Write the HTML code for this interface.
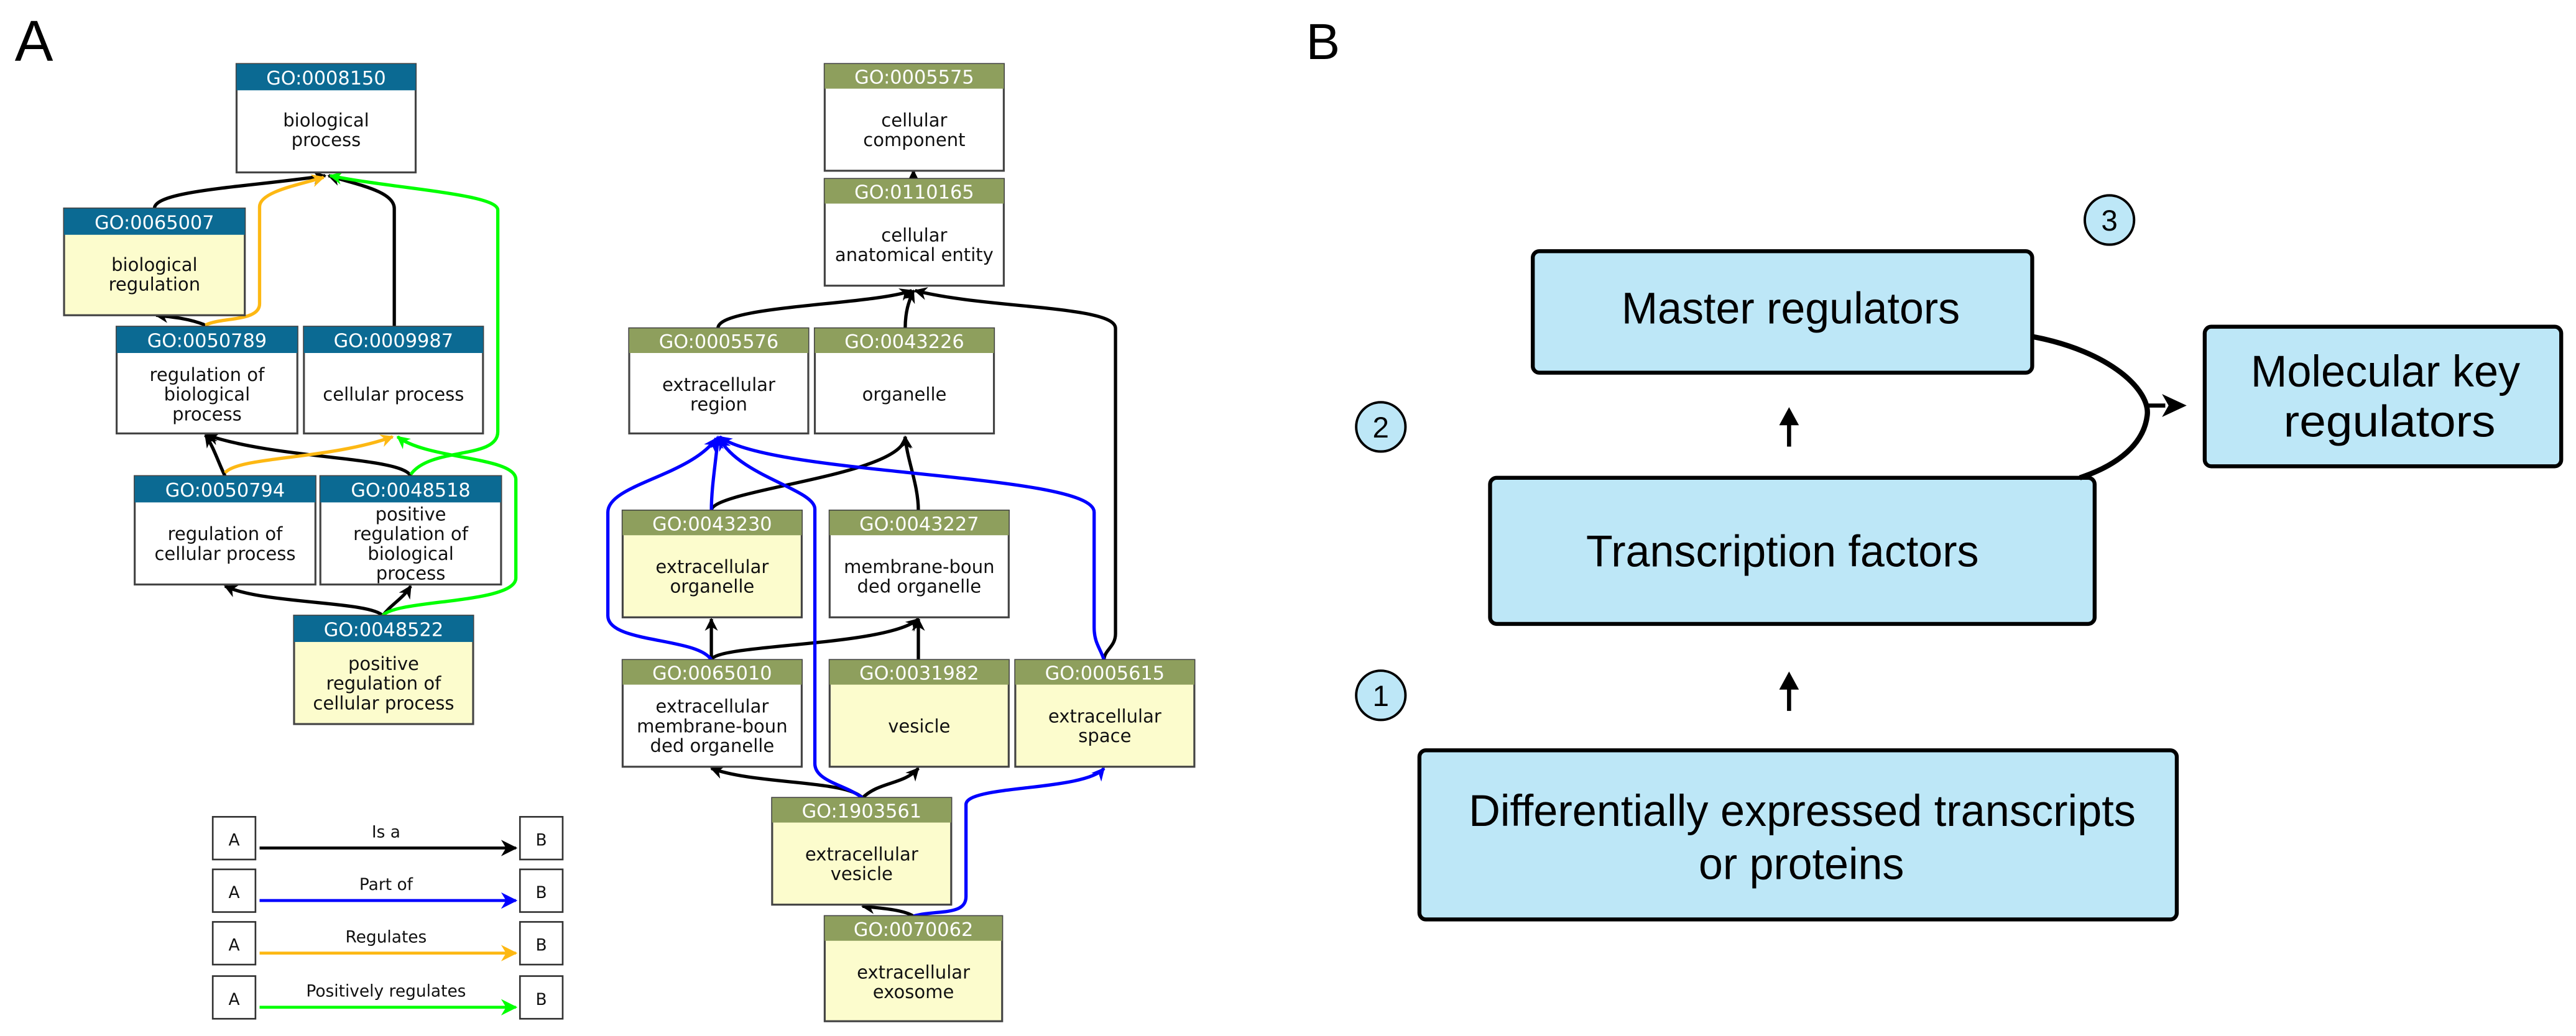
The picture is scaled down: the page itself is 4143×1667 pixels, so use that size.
<!DOCTYPE html>
<html><head><meta charset="utf-8"><style>
html,body{margin:0;padding:0;background:#fff;}
svg{display:block;}
.h{fill:#fff;font-family:"DejaVu Sans",sans-serif;font-size:11.5px;text-anchor:middle;}
.t{fill:#111;font-family:"DejaVu Sans",sans-serif;font-size:11px;text-anchor:middle;}
.lg{fill:#111;font-family:"DejaVu Sans",sans-serif;font-size:10px;text-anchor:middle;}
.b{fill:#000;font-family:"Liberation Sans Narrow","Liberation Sans",sans-serif;font-size:27px;text-anchor:middle;}
.e{fill:none;stroke-width:2;}
</style></head><body>
<svg width="4143" height="1667" viewBox="0 0 1568 631" preserveAspectRatio="none" xmlns="http://www.w3.org/2000/svg">
<defs>
<marker id="mk" viewBox="0 0 10 10" refX="9" refY="5" markerWidth="8" markerHeight="8" orient="auto" markerUnits="userSpaceOnUse"><path d="M0,0 L10,5 L0,10 L3,5z" fill="#000"/></marker>
<marker id="mb" viewBox="0 0 10 10" refX="9" refY="5" markerWidth="8" markerHeight="8" orient="auto" markerUnits="userSpaceOnUse"><path d="M0,0 L10,5 L0,10 L3,5z" fill="#00f"/></marker>
<marker id="mo" viewBox="0 0 10 10" refX="9" refY="5" markerWidth="8" markerHeight="8" orient="auto" markerUnits="userSpaceOnUse"><path d="M0,0 L10,5 L0,10 L3,5z" fill="#fdb813"/></marker>
<marker id="mg" viewBox="0 0 10 10" refX="9" refY="5" markerWidth="8" markerHeight="8" orient="auto" markerUnits="userSpaceOnUse"><path d="M0,0 L10,5 L0,10 L3,5z" fill="#0f0"/></marker>
<marker id="ml" viewBox="0 0 10 10" refX="9" refY="5" markerWidth="10" markerHeight="10" orient="auto" markerUnits="userSpaceOnUse"><path d="M0,0 L10,5 L0,10 L3,5z" fill="context-stroke"/></marker>
</defs>

<text x="9" y="37" style="font-family:'Liberation Sans',sans-serif;font-size:35px">A</text>
<text x="795" y="36" style="font-family:'Liberation Sans',sans-serif;font-size:31px">B</text>

<!-- BP edges -->
<g class="e">
<path d="M94,127 C94,116 150,114 198,107" stroke="#000" marker-end="url(#mk)"/>
<path d="M240,199 L240,127 C240,116 215,112 200,107" stroke="#000" marker-end="url(#mk)"/>
<path d="M125,198 C115,194 105,193 95,192" stroke="#000" marker-end="url(#mk)"/>
<path d="M137,290 C133,282 130,272 125,265" stroke="#000" marker-end="url(#mk)"/>
<path d="M250,290 C245,278 170,280 126,265" stroke="#000" marker-end="url(#mk)"/>
<path d="M233,375 C225,366 160,368 137,357" stroke="#000" marker-end="url(#mk)"/>
<path d="M233,375 C238,368 245,365 250,357" stroke="#000" marker-end="url(#mk)"/>
<path d="M125,198 C135,193 158,196 158,185 L158,126 C158,117 180,113 197,108" stroke="#fdb813" marker-end="url(#mo)"/>
<path d="M137,288 C145,278 200,280 239,266" stroke="#fdb813" marker-end="url(#mo)"/>
<path d="M250,289 C262,272 303,280 303,263 L303,128 C303,118 240,115 201,107" stroke="#0f0" marker-end="url(#mg)"/>
<path d="M233,375 C240,365 314,368 314,352 L314,292 C314,278 260,280 242,266" stroke="#0f0" marker-end="url(#mg)"/>
</g>

<!-- CC edges -->
<g class="e">
<path d="M556,109 L556,104" stroke="#000" marker-end="url(#mk)"/>
<path d="M437,200 C437,186 530,186 555,177" stroke="#000" marker-end="url(#mk)"/>
<path d="M551,200 C551,190 553,184 556,177" stroke="#000" marker-end="url(#mk)"/>
<path d="M672,402 C672,396 679,394 679,386 L679,200 C679,186 600,188 557,177" stroke="#000" marker-end="url(#mk)"/>
<path d="M433,311 C433,298 550,290 551,266" stroke="#000" marker-end="url(#mk)"/>
<path d="M559,311 C559,295 552,280 551,266" stroke="#000" marker-end="url(#mk)"/>
<path d="M433,402 L433,377" stroke="#000" marker-end="url(#mk)"/>
<path d="M433,402 C435,392 540,394 559,377" stroke="#000" marker-end="url(#mk)"/>
<path d="M559,402 L559,377" stroke="#000" marker-end="url(#mk)"/>
<path d="M525,486 C515,475 460,478 433,468" stroke="#000" marker-end="url(#mk)"/>
<path d="M525,486 C535,476 550,478 559,468" stroke="#000" marker-end="url(#mk)"/>
<path d="M556,558 C550,554 535,553 525,552" stroke="#000" marker-end="url(#mk)"/>
<path d="M433,311 C433,296 436,280 437,266" stroke="#00f" marker-end="url(#mb)"/>
<path d="M433,402 C425,388 370,392 370,375 L370,312 C370,295 420,290 436,267" stroke="#00f" marker-end="url(#mb)"/>
<path d="M525,486 C515,478 496,476 496,465 L496,310 C496,298 450,290 438,267" stroke="#00f" marker-end="url(#mb)"/>
<path d="M672,402 C670,395 666,392 666,382 L666,312 C666,288 470,290 438,266" stroke="#00f" marker-end="url(#mb)"/>
<path d="M556,558 C570,554 588,558 588,546 L588,490 C588,478 660,482 672,468" stroke="#00f" marker-end="url(#mb)"/>
</g>

<!-- BP nodes -->
<g stroke="#444" stroke-width="1.2">
<rect x="144" y="39" width="109" height="66" fill="#fff"/><rect x="144" y="39" width="109" height="16" fill="#0b6a93" stroke="none"/>
<rect x="39" y="127" width="110" height="65" fill="#fcfccd"/><rect x="39" y="127" width="110" height="16" fill="#0b6a93" stroke="none"/>
<rect x="71" y="199" width="110" height="65" fill="#fff"/><rect x="71" y="199" width="110" height="16" fill="#0b6a93" stroke="none"/>
<rect x="185" y="199" width="109" height="65" fill="#fff"/><rect x="185" y="199" width="109" height="16" fill="#0b6a93" stroke="none"/>
<rect x="82" y="290" width="110" height="66" fill="#fff"/><rect x="82" y="290" width="110" height="16" fill="#0b6a93" stroke="none"/>
<rect x="195" y="290" width="110" height="66" fill="#fff"/><rect x="195" y="290" width="110" height="16" fill="#0b6a93" stroke="none"/>
<rect x="179" y="375" width="109" height="66" fill="#fcfccd"/><rect x="179" y="375" width="109" height="16" fill="#0b6a93" stroke="none"/>
</g>
<text class="h" x="198.5" y="51.5">GO:0008150</text><text class="t" x="198.5" y="77">biological</text><text class="t" x="198.5" y="89">process</text>
<text class="h" x="94" y="139.5">GO:0065007</text><text class="t" x="94" y="165">biological</text><text class="t" x="94" y="177">regulation</text>
<text class="h" x="126" y="211.5">GO:0050789</text><text class="t" x="126" y="232">regulation of</text><text class="t" x="126" y="244">biological</text><text class="t" x="126" y="256">process</text>
<text class="h" x="239.5" y="211.5">GO:0009987</text><text class="t" x="239.5" y="244">cellular process</text>
<text class="h" x="137" y="302.5">GO:0050794</text><text class="t" x="137" y="329">regulation of</text><text class="t" x="137" y="341">cellular process</text>
<text class="h" x="250" y="302.5">GO:0048518</text><text class="t" x="250" y="317">positive</text><text class="t" x="250" y="329">regulation of</text><text class="t" x="250" y="341">biological</text><text class="t" x="250" y="353">process</text>
<text class="h" x="233.5" y="387.5">GO:0048522</text><text class="t" x="233.5" y="408">positive</text><text class="t" x="233.5" y="420">regulation of</text><text class="t" x="233.5" y="432">cellular process</text>

<!-- CC nodes -->
<g stroke="#444" stroke-width="1.2">
<rect x="502" y="39" width="109" height="65" fill="#fff"/><rect x="502" y="39" width="109" height="15" fill="#8e9f5d" stroke="none"/>
<rect x="502" y="109" width="109" height="65" fill="#fff"/><rect x="502" y="109" width="109" height="15" fill="#8e9f5d" stroke="none"/>
<rect x="383" y="200" width="109" height="64" fill="#fff"/><rect x="383" y="200" width="109" height="15" fill="#8e9f5d" stroke="none"/>
<rect x="496" y="200" width="109" height="64" fill="#fff"/><rect x="496" y="200" width="109" height="15" fill="#8e9f5d" stroke="none"/>
<rect x="379" y="311" width="109" height="65" fill="#fcfccd"/><rect x="379" y="311" width="109" height="15" fill="#8e9f5d" stroke="none"/>
<rect x="505" y="311" width="109" height="65" fill="#fff"/><rect x="505" y="311" width="109" height="15" fill="#8e9f5d" stroke="none"/>
<rect x="379" y="402" width="109" height="65" fill="#fff"/><rect x="379" y="402" width="109" height="15" fill="#8e9f5d" stroke="none"/>
<rect x="505" y="402" width="109" height="65" fill="#fcfccd"/><rect x="505" y="402" width="109" height="15" fill="#8e9f5d" stroke="none"/>
<rect x="618" y="402" width="109" height="65" fill="#fcfccd"/><rect x="618" y="402" width="109" height="15" fill="#8e9f5d" stroke="none"/>
<rect x="470" y="486" width="109" height="65" fill="#fcfccd"/><rect x="470" y="486" width="109" height="15" fill="#8e9f5d" stroke="none"/>
<rect x="502" y="558" width="108" height="64" fill="#fcfccd"/><rect x="502" y="558" width="108" height="15" fill="#8e9f5d" stroke="none"/>
</g>
<text class="h" x="556.5" y="51">GO:0005575</text><text class="t" x="556.5" y="77">cellular</text><text class="t" x="556.5" y="89">component</text>
<text class="h" x="556.5" y="121">GO:0110165</text><text class="t" x="556.5" y="147">cellular</text><text class="t" x="556.5" y="159">anatomical entity</text>
<text class="h" x="437.5" y="212">GO:0005576</text><text class="t" x="437.5" y="238">extracellular</text><text class="t" x="437.5" y="250">region</text>
<text class="h" x="550.5" y="212">GO:0043226</text><text class="t" x="550.5" y="244">organelle</text>
<text class="h" x="433.5" y="323">GO:0043230</text><text class="t" x="433.5" y="349">extracellular</text><text class="t" x="433.5" y="361">organelle</text>
<text class="h" x="559.5" y="323">GO:0043227</text><text class="t" x="559.5" y="349">membrane-boun</text><text class="t" x="559.5" y="361">ded organelle</text>
<text class="h" x="433.5" y="414">GO:0065010</text><text class="t" x="433.5" y="434">extracellular</text><text class="t" x="433.5" y="446">membrane-boun</text><text class="t" x="433.5" y="458">ded organelle</text>
<text class="h" x="559.5" y="414">GO:0031982</text><text class="t" x="559.5" y="446">vesicle</text>
<text class="h" x="672.5" y="414">GO:0005615</text><text class="t" x="672.5" y="440">extracellular</text><text class="t" x="672.5" y="452">space</text>
<text class="h" x="524.5" y="498">GO:1903561</text><text class="t" x="524.5" y="524">extracellular</text><text class="t" x="524.5" y="536">vesicle</text>
<text class="h" x="556" y="570">GO:0070062</text><text class="t" x="556" y="596">extracellular</text><text class="t" x="556" y="608">exosome</text>

<!-- Legend -->
<g stroke="#333" stroke-width="1" fill="#fff">
<rect x="129.5" y="497.5" width="26" height="26"/><rect x="316.5" y="497.5" width="26" height="26"/>
<rect x="129.5" y="529.5" width="26" height="26"/><rect x="316.5" y="529.5" width="26" height="26"/>
<rect x="129.5" y="561.5" width="26" height="26"/><rect x="316.5" y="561.5" width="26" height="26"/>
<rect x="129.5" y="594.5" width="26" height="26"/><rect x="316.5" y="594.5" width="26" height="26"/>
</g>
<g class="lg"><text x="142.5" y="515">A</text><text x="329.5" y="515">B</text>
<text x="142.5" y="547">A</text><text x="329.5" y="547">B</text>
<text x="142.5" y="579">A</text><text x="329.5" y="579">B</text>
<text x="142.5" y="612">A</text><text x="329.5" y="612">B</text>
<text x="235" y="510">Is a</text><text x="235" y="542">Part of</text><text x="235" y="574">Regulates</text><text x="235" y="607">Positively regulates</text></g>
<g stroke-width="1.8" fill="none">
<path d="M158,516.5 L314,516.5" stroke="#000" marker-end="url(#ml)"/>
<path d="M158,548.5 L314,548.5" stroke="#00f" marker-end="url(#ml)"/>
<path d="M158,580.5 L314,580.5" stroke="#fdb813" marker-end="url(#ml)"/>
<path d="M158,613.5 L314,613.5" stroke="#0f0" marker-end="url(#ml)"/>
</g>

<!-- Panel B -->
<g stroke="#000" stroke-width="2.4" fill="#bde7f7">
<rect x="933" y="153" width="304" height="74" rx="4"/>
<rect x="1342" y="199" width="217" height="85" rx="4"/>
<rect x="907" y="291" width="368" height="89" rx="4"/>
<rect x="864" y="457" width="461" height="103" rx="4"/>
<circle cx="1284" cy="134" r="15" stroke-width="1.5"/>
<circle cx="840.5" cy="260" r="15" stroke-width="1.5"/>
<circle cx="840.5" cy="423.5" r="15" stroke-width="1.5"/>
</g>
<text class="b" x="1090" y="197" textLength="206" lengthAdjust="spacingAndGlyphs">Master regulators</text>
<text class="b" x="1452" y="235.5" textLength="164" lengthAdjust="spacingAndGlyphs">Molecular key</text>
<text class="b" x="1454.5" y="266" textLength="129" lengthAdjust="spacingAndGlyphs">regulators</text>
<text class="b" x="1085" y="345" textLength="239" lengthAdjust="spacingAndGlyphs">Transcription factors</text>
<text class="b" x="1097" y="503" textLength="406" lengthAdjust="spacingAndGlyphs">Differentially expressed transcripts</text>
<text class="b" x="1096.5" y="535.5" textLength="125" lengthAdjust="spacingAndGlyphs">or proteins</text>
<g style="font-family:'Liberation Sans Narrow','Liberation Sans',sans-serif;font-size:18px;text-anchor:middle"><text x="1284" y="140.5">3</text><text x="840.5" y="266.5">2</text><text x="840.5" y="430">1</text></g>
<path d="M1237,205 C1285,214 1309,238 1307,253 C1305,270 1290,283 1266,291" fill="none" stroke="#000" stroke-width="3.2"/>
<path d="M1307,247 L1318,247" stroke="#000" stroke-width="2.5"/>
<path d="M1316,240 L1331,247 L1316,254 L1320,247z" fill="#000"/>
<path d="M1089,433 L1089,418" stroke="#000" stroke-width="2.5"/>
<path d="M1083,420 L1089,409 L1095,420z" fill="#000"/>
<path d="M1089,272 L1089,257" stroke="#000" stroke-width="2.5"/>
<path d="M1083,259 L1089,248 L1095,259z" fill="#000"/>
</svg>
</body></html>
